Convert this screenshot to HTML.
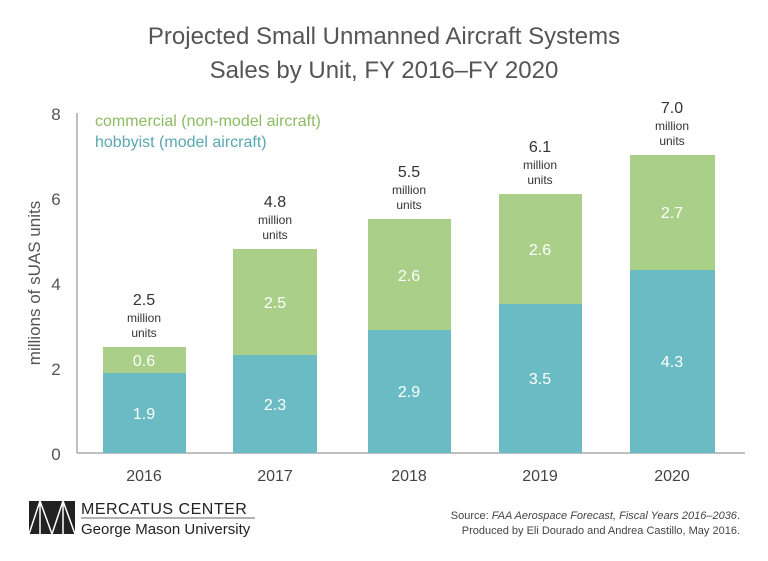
<!DOCTYPE html>
<html><head><style>body{margin:0;background:#fff}</style></head><body>
<svg width="768" height="556" xmlns="http://www.w3.org/2000/svg" font-family="Liberation Sans, sans-serif">
<rect width="768" height="556" fill="#fff"/>
<text x="384" y="44" text-anchor="middle" font-size="24" fill="#555">Projected Small Unmanned Aircraft Systems</text>
<text x="384" y="78" text-anchor="middle" font-size="24" fill="#555">Sales by Unit, FY 2016–FY 2020</text>
<line x1="77" y1="113" x2="77" y2="453" stroke="#aaa" stroke-width="1.5"/>
<line x1="77" y1="453" x2="745" y2="453" stroke="#aaa" stroke-width="1.5"/>
<g font-size="17" fill="#555" text-anchor="middle">
<text x="56" y="120">8</text><text x="56" y="205">6</text><text x="56" y="290">4</text><text x="56" y="375">2</text><text x="56" y="460">0</text>
</g>
<text transform="translate(40,283) rotate(-90)" text-anchor="middle" font-size="17" fill="#555">millions of sUAS units</text>
<text x="95" y="126" font-size="16" fill="#8dbb63">commercial (non-model aircraft)</text>
<text x="95" y="147" font-size="16" fill="#5aa7b1">hobbyist (model aircraft)</text>
<g fill="#a9cf89">
<rect x="103" y="347" width="83" height="26"/><rect x="233" y="249" width="84" height="106"/><rect x="368" y="219" width="83" height="111"/><rect x="499" y="194" width="83" height="110"/><rect x="630" y="155" width="85" height="115"/>
</g>
<g fill="#6bbbc5">
<rect x="103" y="373" width="83" height="80"/><rect x="233" y="355" width="84" height="98"/><rect x="368" y="330" width="83" height="123"/><rect x="499" y="304" width="83" height="149"/><rect x="630" y="270" width="85" height="183"/>
</g>
<g fill="#fff" font-size="16" text-anchor="middle">
<text x="144" y="366">0.6</text><text x="144" y="419">1.9</text>
<text x="275" y="308">2.5</text><text x="275" y="410">2.3</text>
<text x="409" y="281">2.6</text><text x="409" y="397">2.9</text>
<text x="540" y="255">2.6</text><text x="540" y="384">3.5</text>
<text x="672" y="218">2.7</text><text x="672" y="367">4.3</text>
</g>
<g fill="#333" text-anchor="middle">
<text x="144" y="305" font-size="16">2.5</text><text x="144" y="322" font-size="12">million</text><text x="144" y="337" font-size="12">units</text>
<text x="275" y="207" font-size="16">4.8</text><text x="275" y="224" font-size="12">million</text><text x="275" y="239" font-size="12">units</text>
<text x="409" y="177" font-size="16">5.5</text><text x="409" y="194" font-size="12">million</text><text x="409" y="209" font-size="12">units</text>
<text x="540" y="152" font-size="16">6.1</text><text x="540" y="169" font-size="12">million</text><text x="540" y="184" font-size="12">units</text>
<text x="672" y="113" font-size="16">7.0</text><text x="672" y="130" font-size="12">million</text><text x="672" y="145" font-size="12">units</text>
</g>
<g font-size="16" fill="#444" text-anchor="middle">
<text x="144" y="481">2016</text><text x="275" y="481">2017</text><text x="409" y="481">2018</text><text x="540" y="481">2019</text><text x="672" y="481">2020</text>
</g>
<g>
<rect x="29" y="501" width="46" height="33" fill="#222"/>
<path d="M29 534 L40 501 L52 534 L63 501 L75 534 M40 501 L40 534 M63 501 L63 534" stroke="#fff" stroke-width="1.5" fill="none"/>
</g>
<text x="81" y="514" font-size="16" fill="#222" letter-spacing="0.5">MERCATUS CENTER</text>
<line x1="81" y1="518" x2="255" y2="518" stroke="#666" stroke-width="1"/>
<text x="81" y="534" font-size="15" fill="#222">George Mason University</text>
<text x="740" y="519" font-size="11" fill="#444" text-anchor="end">Source: <tspan font-style="italic">FAA Aerospace Forecast, Fiscal Years 2016–2036</tspan>.</text>
<text x="740" y="534" font-size="11" fill="#444" text-anchor="end">Produced by Eli Dourado and Andrea Castillo, May 2016.</text>
</svg>
</body></html>
